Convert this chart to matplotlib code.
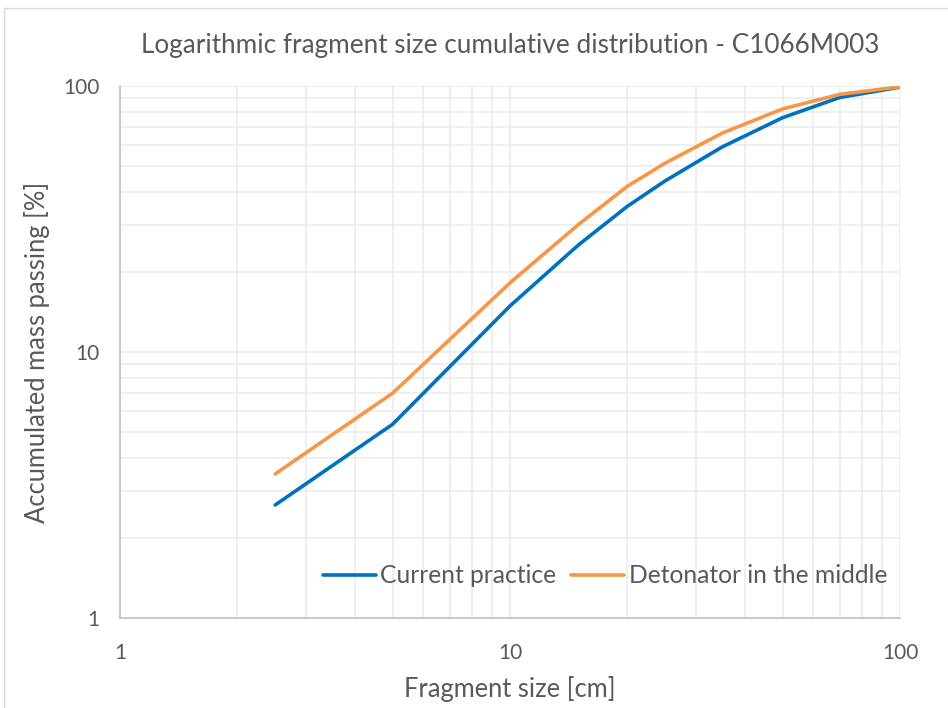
import matplotlib
matplotlib.use("Agg")
import matplotlib.pyplot as plt
from matplotlib.patches import Rectangle
from matplotlib.ticker import LogLocator, FixedLocator, NullFormatter

plt.rcParams["font.family"] = ["Lato", "DejaVu Sans"]

# Data
fragment_size = [2.5, 5, 10, 15, 20, 25, 35, 50, 70, 100]
current_practice = [2.66, 5.35, 14.9, 25.3, 35.3, 44.0, 59.0, 76.0, 90.5, 99.0]
detonator_middle = [3.48, 7.0, 18.2, 30.2, 42.0, 51.3, 66.5, 82.0, 93.0, 99.3]

blue = "#0070C0"
orange = "#F79646"
text_col = "#595959"
grid_col = "#EBEBEB"

fig = plt.figure(figsize=(9.48, 7.08), dpi=100)
ax = fig.add_axes([120 / 948, 1 - 618 / 708, 780 / 948, 532 / 708])

# outer chart border like the Excel chart area
fig.patches.append(Rectangle((4 / 948, -0.05), 1.2, 1 - 8 / 708 + 0.05,
                             transform=fig.transFigure, fill=False,
                             edgecolor="#D9D9D9", linewidth=1))

ax.plot(fragment_size, current_practice, color=blue, lw=2.6,
        label="Current practice", solid_capstyle="round", zorder=3)
ax.plot(fragment_size, detonator_middle, color=orange, lw=2.6,
        label="Detonator in the middle", solid_capstyle="round", zorder=3)

ax.set_xscale("log")
ax.set_yscale("log")
ax.set_xlim(1, 100)
ax.set_ylim(1, 100)

ax.xaxis.set_major_locator(FixedLocator([1, 10, 100]))
ax.yaxis.set_major_locator(FixedLocator([1, 10, 100]))
ax.set_xticklabels(["1", "10", "100"])
ax.set_yticklabels(["1", "10", "100"])
ax.xaxis.set_minor_locator(LogLocator(base=10, subs=range(2, 10)))
ax.yaxis.set_minor_locator(LogLocator(base=10, subs=range(2, 10)))
ax.xaxis.set_minor_formatter(NullFormatter())
ax.yaxis.set_minor_formatter(NullFormatter())

ax.grid(which="both", color=grid_col, linewidth=1.1, zorder=0)
ax.set_axisbelow(True)
ax.tick_params(which="both", length=0)
ax.tick_params(axis="x", pad=18, labelsize=15, colors=text_col)
ax.tick_params(axis="y", pad=15, labelsize=15, colors=text_col)

for side in ["top", "right"]:
    ax.spines[side].set_visible(False)
for side in ["left", "bottom"]:
    ax.spines[side].set_color("#BFBFBF")
    ax.spines[side].set_linewidth(1.2)

ax.set_title("Logarithmic fragment size cumulative distribution - C1066M003",
             fontsize=18.8, color=text_col, pad=24)
ax.set_xlabel("Fragment size [cm]", fontsize=18.4, color=text_col, labelpad=9)
ax.set_ylabel("Accumulated mass passing [%]", fontsize=18.4, color=text_col,
              labelpad=9)

leg = ax.legend(loc="center", bbox_to_anchor=(0.622, 0.079), ncol=2,
                frameon=False, fontsize=17.7, handlelength=2.15,
                handletextpad=0.2, columnspacing=0.6)
for t in leg.get_texts():
    t.set_color(text_col)

fig.savefig("out.png", dpi=100, facecolor="white")
